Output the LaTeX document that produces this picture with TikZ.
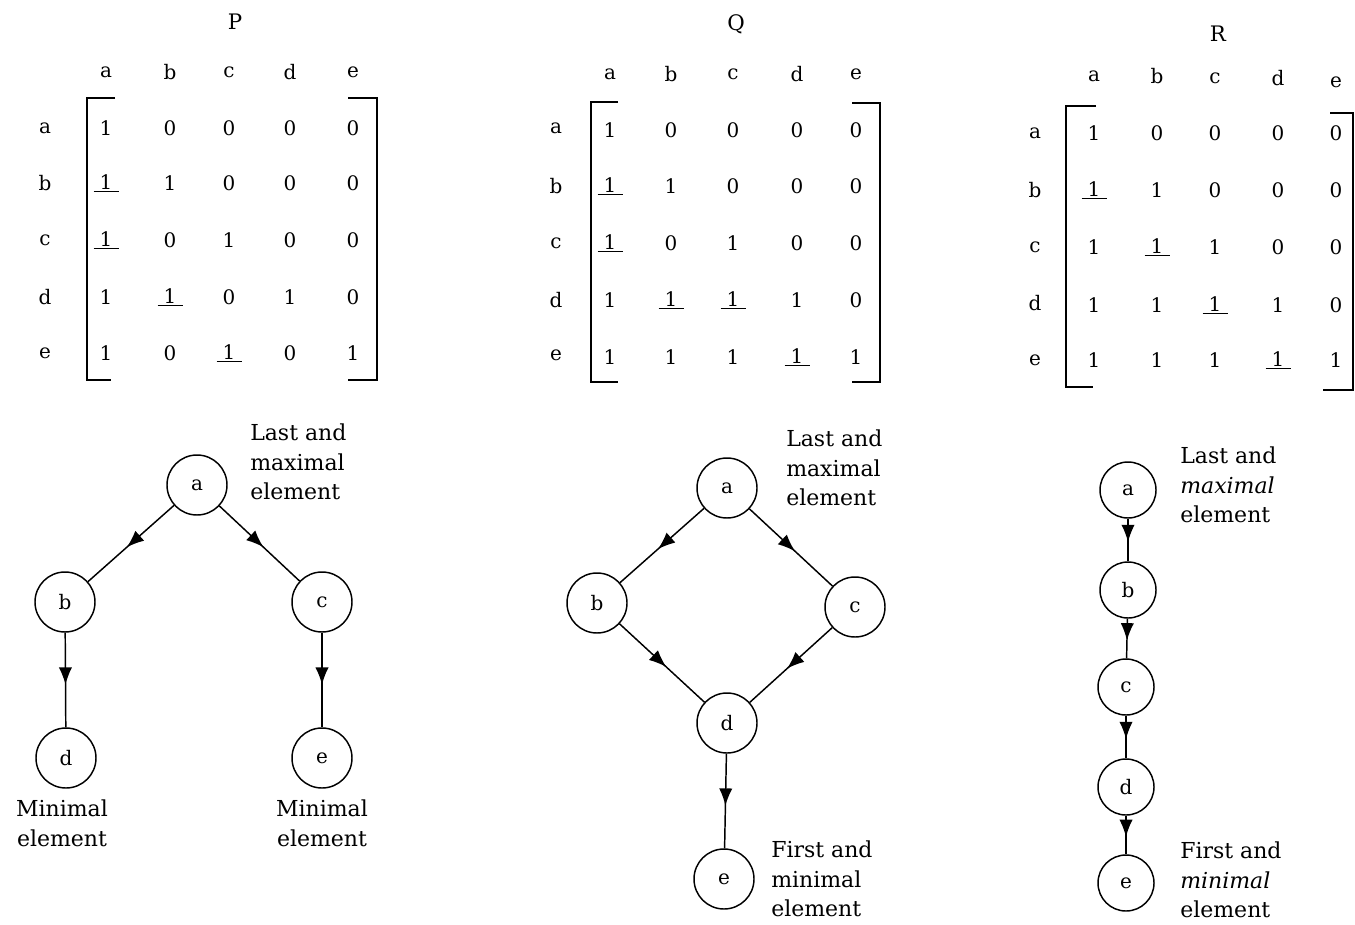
\documentclass[tikz,border=0pt]{standalone}
\usepackage{fontspec}
\setmainfont{DejaVu Serif}
\usetikzlibrary{arrows.meta,decorations.markings}
\newcommand{\ulone}{\underline{\makebox[1.25em]{1}}}
\newcommand{\mrow}[5]{%
  \foreach \v [count=\j from 0] in {#5} {%
    \pgfmathsetmacro\xx{{#2}[\j]}%
    \node[ent] (#1#4\j) at (\xx,#3) {\v};
  }}
\tikzset{
  ent/.style={font=\fontsize{15}{18}\selectfont, inner sep=0pt, anchor=center},
  ttl/.style={font=\fontsize{16}{19}\selectfont, inner sep=0pt},
  brk/.style={line width=1.4pt},
  vert/.style={circle, draw, line width=1.1pt, minimum size=45pt, inner sep=0pt,
    font=\fontsize{15}{18}\selectfont},
  svert/.style={vert, minimum size=42pt},
  arc/.style={line width=1.1pt, postaction={decorate},
    decoration={markings, mark=at position 0.55 with {\arrow{Latex[length=13pt,width=10pt]}}}},
  note/.style={font=\fontsize{16.5}{22}\selectfont, align=left, inner sep=0pt},
}
\begin{document}
\begin{tikzpicture}[x=0.75pt,y=-0.75pt]
\useasboundingbox (0,0) rectangle (1355,924);
% ---------------- P ----------------
\node[ttl] (Ptitle) at (235,22) {P};
\foreach \c/\x in {a/106,b/170,c/229,d/290,e/353} \node[ent] (Ph\c) at (\x,72) {\c};
\foreach \r/\y in {a/128,b/183,c/240,d/297,e/353} \node[ent] (Pr\r) at (45,\y) {\r};
\mrow{P}{106,170,229,290,353}{128}{a}{1,0,0,0,0}
\mrow{P}{106,170,229,290,353}{183}{b}{\ulone,1,0,0,0}
\mrow{P}{106,170,229,290,353}{240}{c}{\ulone,0,1,0,0}
\mrow{P}{106,170,229,290,353}{297}{d}{1,\ulone,0,1,0}
\mrow{P}{106,170,229,290,353}{353}{e}{1,0,\ulone,0,1}
\draw[brk] (115,98) -- (87,98) -- (87,380) -- (111,380);
\draw[brk] (348,98) -- (377,98) -- (377,380) -- (348,380);
% ---------------- Q ----------------
\node[ttl] (Qtitle) at (736,24) {Q};
\foreach \c/\x in {a/610,b/671,c/733,d/797,e/856} \node[ent] (Qh\c) at (\x,74) {\c};
\foreach \r/\y in {a/128,b/186,c/243,d/300,e/355} \node[ent] (Qr\r) at (556,\y) {\r};
\mrow{Q}{610,671,733,797,856}{130}{a}{1,0,0,0,0}
\mrow{Q}{610,671,733,797,856}{186}{b}{\ulone,1,0,0,0}
\mrow{Q}{610,671,733,797,856}{243}{c}{\ulone,0,1,0,0}
\mrow{Q}{610,671,733,797,856}{300}{d}{1,\ulone,\ulone,1,0}
\mrow{Q}{610,671,733,797,856}{357}{e}{1,1,1,\ulone,1}
\draw[brk] (618,102) -- (591,102) -- (591,382) -- (618,382);
\draw[brk] (852,103) -- (880,103) -- (880,382) -- (852,382);
% ---------------- R ----------------
\node[ttl] (Rtitle) at (1218,34) {R};
\foreach \c/\x/\y in {a/1094/76,b/1157/76,c/1215/78,d/1278/78,e/1336/82} \node[ent] (Rh\c) at (\x,\y) {\c};
\foreach \r/\y in {a/133,b/190,c/247,d/303,e/360} \node[ent] (Rr\r) at (1035,\y) {\r};
\mrow{R}{1094,1157,1215,1278,1336}{133}{a}{1,0,0,0,0}
\mrow{R}{1094,1157,1215,1278,1336}{190}{b}{\ulone,1,0,0,0}
\mrow{R}{1094,1157,1215,1278,1336}{247}{c}{1,\ulone,1,0,0}
\mrow{R}{1094,1157,1215,1278,1336}{305}{d}{1,1,\ulone,1,0}
\mrow{R}{1094,1157,1215,1278,1336}{360}{e}{1,1,1,\ulone,1}
\draw[brk] (1096,106) -- (1066,106) -- (1066,387) -- (1093,387);
\draw[brk] (1330,113) -- (1353,113) -- (1353,390) -- (1323,390);
% ---------------- P graph ----------------
\node[vert] (pa) at (197,485) {a};
\node[vert] (pb) at (65,602) {b};
\node[vert] (pc) at (322,602) {c};
\node[vert] (pd) at (66,758) {d};
\node[vert] (pe) at (322,758) {e};
\draw[arc] (pa) -- (pb);
\draw[arc] (pa) -- (pc);
\draw[arc] (pb) -- (pd);
\draw[arc] (pc) -- (pe);
\node[note, anchor=north west] (pn1) at (250,424) {Last and\\maximal\\element};
\node[note, anchor=north, align=center] (pn2) at (62,800) {Minimal\\element};
\node[note, anchor=north, align=center] (pn3) at (322,800) {Minimal\\element};
% ---------------- Q graph ----------------
\node[vert] (qa) at (727,488) {a};
\node[vert] (qb) at (597,603) {b};
\node[vert] (qc) at (855,607) {c};
\node[vert] (qd) at (727,723) {d};
\node[vert] (qe) at (724,879) {e};
\draw[arc] (qa) -- (qb);
\draw[arc] (qa) -- (qc);
\draw[arc] (qb) -- (qd);
\draw[arc] (qc) -- (qd);
\draw[arc] (qd) -- (qe);
\node[note, anchor=north west] (qn1) at (786,430) {Last and\\maximal\\element};
\node[note, anchor=north west] (qn2) at (771,841) {First and\\minimal\\element};
% ---------------- R graph ----------------
\node[svert] (ra) at (1128,490) {a};
\node[svert] (rb) at (1128,590) {b};
\node[svert] (rc) at (1126,687) {c};
\node[svert] (rd) at (1126,787) {d};
\node[svert] (re) at (1126,883) {e};
\draw[arc] (ra) -- (rb);
\draw[arc] (rb) -- (rc);
\draw[arc] (rc) -- (rd);
\draw[arc] (rd) -- (re);
\node[note, anchor=north west] (rn1) at (1180,447) {Last and\\\textit{maximal}\\element};
\node[note, anchor=north west] (rn2) at (1180,842) {First and\\\textit{minimal}\\element};
\end{tikzpicture}
\end{document}
